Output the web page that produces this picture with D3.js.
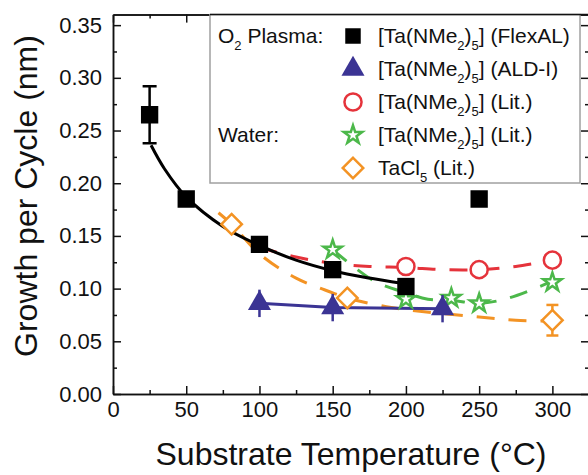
<!DOCTYPE html>
<html>
<head>
<meta charset="utf-8">
<script src="https://cdn.jsdelivr.net/npm/d3@7"></script>
<style>
  html, body { margin: 0; padding: 0; background: #fff; }
  svg { display: block; font-family: "Liberation Sans", Arial, sans-serif; }
</style>
</head>
<body>
<div id="chart"></div>
<script>
(function () {
    "use strict";

    // O2 plasma, [Ta(NMe2)5] FlexAL
    const flexT = [25, 50, 100, 150, 200, 250];
    const flexGpc = [0.265, 0.185, 0.142, 0.118, 0.102, 0.185];
    const flexErr = [0.027, 0, 0, 0, 0, 0];
    const fitT = [26, 35, 50, 75, 100, 125, 150, 175, 197];
    const fitGpc = [0.236, 0.214, 0.187, 0.159, 0.141, 0.127, 0.117, 0.110, 0.105];

    // O2 plasma, [Ta(NMe2)5] ALD-I
    const aldT = [100, 150, 225];
    const aldGpc = [0.086, 0.082, 0.081];
    const aldErr = [0.013, 0.013, 0.013];

    // O2 plasma, [Ta(NMe2)5] literature
    const litT = [200, 250, 300];
    const litGpc = [0.121, 0.118, 0.127];
    const litTrendT = [100, 125, 150, 175, 200, 225, 250, 275, 300];
    const litTrendGpc = [0.139, 0.130, 0.124, 0.121, 0.120, 0.118, 0.118, 0.121, 0.127];

    // Water, [Ta(NMe2)5] literature
    const waterT = [150, 200, 231, 250, 300];
    const waterGpc = [0.137, 0.090, 0.091, 0.086, 0.106];
    const waterTrendT = [150, 165, 180, 200, 215, 231, 250, 270, 300];
    const waterTrendGpc = [0.137, 0.120, 0.106, 0.096, 0.090, 0.089, 0.086, 0.091, 0.107];

    // Water, TaCl5 literature
    const taclT = [81, 160, 300];
    const taclGpc = [0.161, 0.091, 0.070];
    const taclErr = [0, 0, 0.0145];
    const taclTrendT = [72, 81, 100, 125, 150, 160, 190, 220, 250, 275, 300];
    const taclTrendGpc = [0.172, 0.161, 0.133, 0.110, 0.096, 0.091, 0.082, 0.077, 0.073, 0.070, 0.069];

    const xTicks = [0, 50, 100, 150, 200, 250, 300];
    const xMinor = [25, 75, 125, 175, 225, 275, 325];
    const yTicks = [0, 0.05, 0.10, 0.15, 0.20, 0.25, 0.30, 0.35];
    const yMinor = [0.025, 0.075, 0.125, 0.175, 0.225, 0.275, 0.325];

    const legendRows = [
        { group: "O2", key: "flex", label: ["[Ta(NMe", "2", ")", "5", "] (FlexAL)"] },
        { group: "", key: "ald", label: ["[Ta(NMe", "2", ")", "5", "] (ALD-I)"] },
        { group: "", key: "lit", label: ["[Ta(NMe", "2", ")", "5", "] (Lit.)"] },
        { group: "Water:", key: "water", label: ["[Ta(NMe", "2", ")", "5", "] (Lit.)"] },
        { group: "", key: "tacl", label: ["TaCl", "5", " (Lit.)"] }
    ];

    const colors = {
        flex: "#000000",
        ald: "#3b3494",
        lit: "#e5333b",
        water: "#4cb84a",
        tacl: "#f39324"
    };

    const width = 588;
    const height = 475;
    const left = 113;
    const right = 589;
    const top = 14.6;
    const bottom = 394;

    const x = d3.scaleLinear().domain([0, 325]).range([left, right]);
    const y = d3.scaleLinear().domain([0, 0.36]).range([bottom, top]);

    const svg = d3.select("#chart")
        .append("svg")
        .attr("width", width)
        .attr("height", height)
        .attr("viewBox", [0, 0, width, height]);

    svg.append("defs").append("clipPath")
        .attr("id", "plot-clip")
        .append("rect")
        .attr("x", left)
        .attr("y", top)
        .attr("width", right - left)
        .attr("height", bottom - top);

    const zip = (xs, ys) => xs.map((t, i) => [t, ys[i]]);

    const plot = svg.append("g").attr("clip-path", "url(#plot-clip)");

    const smooth = d3.line()
        .x((d) => x(d[0]))
        .y((d) => y(d[1]))
        .curve(d3.curveCatmullRom.alpha(0.5));

    const straight = d3.line()
        .x((d) => x(d[0]))
        .y((d) => y(d[1]));

    // dashed trend lines
    [
        [taclTrendT, taclTrendGpc, colors.tacl],
        [waterTrendT, waterTrendGpc, colors.water],
        [litTrendT, litTrendGpc, colors.lit]
    ].forEach(([ts, gs, c]) => {
        plot.append("path")
            .attr("d", smooth(zip(ts, gs)))
            .attr("fill", "none")
            .attr("stroke", c)
            .attr("stroke-width", 3)
            .attr("stroke-dasharray", "18,14");
    });

    plot.append("path")
        .attr("d", straight(zip(aldT, aldGpc)))
        .attr("fill", "none")
        .attr("stroke", colors.ald)
        .attr("stroke-width", 3);

    plot.append("path")
        .attr("d", smooth(zip(fitT, fitGpc)))
        .attr("fill", "none")
        .attr("stroke", "#000")
        .attr("stroke-width", 3);

    function errorBars(ts, gs, es, color, cap) {
        const rows = zip(ts, gs).map((d, i) => [d[0], d[1], es[i]]).filter((d) => d[2] > 0);
        const g = plot.append("g").attr("stroke", color).attr("stroke-width", 2.5);
        rows.forEach(([t, v, e]) => {
            g.append("line")
                .attr("x1", x(t)).attr("x2", x(t))
                .attr("y1", y(v - e)).attr("y2", y(v + e));
            if (cap > 0) {
                [v - e, v + e].forEach((w) => {
                    g.append("line")
                        .attr("x1", x(t) - cap).attr("x2", x(t) + cap)
                        .attr("y1", y(w)).attr("y2", y(w));
                });
            }
        });
    }

    const symbols = {
        flex: { type: d3.symbolSquare, size: 300, fill: colors.flex, stroke: "none", rotate: 0 },
        ald: { type: d3.symbolTriangle, size: 230, fill: colors.ald, stroke: "none", rotate: 0 },
        lit: { type: d3.symbolCircle, size: 230, fill: "#fff", stroke: colors.lit, rotate: 0 },
        water: { type: d3.symbolStar, size: 105, fill: "#fff", stroke: colors.water, rotate: 0 },
        tacl: { type: d3.symbolSquare, size: 210, fill: "#fff", stroke: colors.tacl, rotate: 45 }
    };

    function markers(target, key, points) {
        const s = symbols[key];
        target.selectAll(null)
            .data(points)
            .join("path")
            .attr("d", d3.symbol().type(s.type).size(s.size))
            .attr("transform", (d) => `translate(${x(d[0])},${y(d[1])}) rotate(${s.rotate})`)
            .attr("fill", s.fill)
            .attr("stroke", s.stroke)
            .attr("stroke-width", 2.5);
    }

    errorBars(taclT, taclGpc, taclErr, colors.tacl, 6);
    markers(plot.append("g"), "tacl", zip(taclT, taclGpc));
    markers(plot.append("g"), "water", zip(waterT, waterGpc));
    markers(plot.append("g"), "lit", zip(litT, litGpc));
    errorBars(aldT, aldGpc, aldErr, colors.ald, 0);
    markers(plot.append("g"), "ald", zip(aldT, aldGpc));
    errorBars(flexT, flexGpc, flexErr, "#000", 7);
    markers(plot.append("g"), "flex", zip(flexT, flexGpc));

    // axes
    const tickFont = (g) => g.selectAll("text")
        .attr("font-size", 22)
        .attr("fill", "#111")
        .attr("font-family", "Liberation Sans, Arial, sans-serif");
    const axisStyle = (g) => {
        g.selectAll("path, line").attr("stroke", "#111").attr("stroke-width", 1.5);
    };

    svg.append("g")
        .attr("transform", `translate(0,${bottom})`)
        .call(d3.axisBottom(x).tickValues(xMinor.filter((t) => x(t) < right - 1)).tickSize(-4).tickSizeOuter(0).tickFormat(""))
        .call(axisStyle);
    svg.append("g")
        .attr("transform", `translate(0,${bottom})`)
        .call(d3.axisBottom(x).tickValues(xTicks).tickSize(-8).tickSizeOuter(0).tickPadding(7).tickFormat(d3.format("d")))
        .call(axisStyle)
        .call(tickFont);

    svg.append("g")
        .attr("transform", `translate(${left},0)`)
        .call(d3.axisLeft(y).tickValues(yMinor).tickSize(-4).tickSizeOuter(0).tickFormat(""))
        .call(axisStyle);
    svg.append("g")
        .attr("transform", `translate(${left},0)`)
        .call(d3.axisLeft(y).tickValues(yTicks).tickSize(-8).tickSizeOuter(0).tickPadding(11).tickFormat(d3.format(".2f")))
        .call(axisStyle)
        .call(tickFont);

    svg.append("g")
        .attr("transform", `translate(${right},0)`)
        .call(d3.axisRight(y).tickValues(yMinor).tickSize(-4).tickSizeOuter(0).tickFormat(""))
        .call(axisStyle);
    svg.append("g")
        .attr("transform", `translate(${right},0)`)
        .call(d3.axisRight(y).tickValues(yTicks).tickSize(-8).tickSizeOuter(0).tickFormat(""))
        .call(axisStyle);

    // legend box (covers the top ticks beneath it)
    const lgX = 210;
    const lgRight = 580;
    const lgBottom = 183;

    svg.append("g")
        .attr("transform", `translate(0,${top})`)
        .call(d3.axisTop(x).tickValues(xMinor.filter((t) => x(t) < lgX)).tickSize(-4).tickSizeOuter(0).tickFormat(""))
        .call(axisStyle);
    svg.append("g")
        .attr("transform", `translate(0,${top})`)
        .call(d3.axisTop(x).tickValues(xTicks.filter((t) => x(t) < lgX)).tickSize(-8).tickSizeOuter(0).tickFormat(""))
        .call(axisStyle);

    const legend = svg.append("g");
    legend.append("rect")
        .attr("x", lgX)
        .attr("y", top)
        .attr("width", lgRight - lgX)
        .attr("height", lgBottom - top)
        .attr("fill", "#fff")
        .attr("stroke", "#a0a0a0")
        .attr("stroke-width", 1.5);
    legend.append("line")
        .attr("x1", lgX).attr("x2", right)
        .attr("y1", top).attr("y2", top)
        .attr("stroke", "#111")
        .attr("stroke-width", 1.5);

    const rowY = (i) => 36 + i * 33;
    const markerX = 353;
    const textX = 378;

    legendRows.forEach((row, i) => {
        const cy = rowY(i);
        const s = symbols[row.key];
        legend.append("path")
            .attr("d", d3.symbol().type(s.type).size(row.key === "flex" ? 240 : s.size))
            .attr("transform", `translate(${markerX},${cy}) rotate(${s.rotate})`)
            .attr("fill", s.fill)
            .attr("stroke", s.stroke)
            .attr("stroke-width", 2.5);

        const t = legend.append("text")
            .attr("x", textX)
            .attr("y", cy)
            .attr("dy", "0.35em")
            .attr("font-size", 21)
            .attr("fill", "#111");
        row.label.forEach((part, j) => {
            const sub = row.key === "tacl" ? j === 1 : (j === 1 || j === 3);
            const ts = t.append("tspan").text(part);
            if (sub) {
                ts.attr("font-size", 13).attr("dy", 7);
            } else if (j > 0) {
                ts.attr("dy", -7);
            }
        });

        if (row.group === "O2") {
            const g = legend.append("text")
                .attr("x", 218)
                .attr("y", cy)
                .attr("dy", "0.35em")
                .attr("font-size", 21)
                .attr("fill", "#111");
            g.append("tspan").text("O");
            g.append("tspan").text("2").attr("font-size", 13).attr("dy", 7);
            g.append("tspan").text(" Plasma:").attr("dy", -7);
        } else if (row.group) {
            legend.append("text")
                .attr("x", 218)
                .attr("y", cy)
                .attr("dy", "0.35em")
                .attr("font-size", 21)
                .attr("fill", "#111")
                .text(row.group);
        }
    });

    // axis titles
    svg.append("text")
        .attr("x", (left + right) / 2)
        .attr("y", 465)
        .attr("text-anchor", "middle")
        .attr("font-size", 32)
        .attr("fill", "#111")
        .text("Substrate Temperature (°C)");

    svg.append("text")
        .attr("transform", `translate(37,196) rotate(-90)`)
        .attr("text-anchor", "middle")
        .attr("font-size", 32)
        .attr("fill", "#111")
        .text("Growth per Cycle (nm)");
})();
</script>
</body>
</html>
